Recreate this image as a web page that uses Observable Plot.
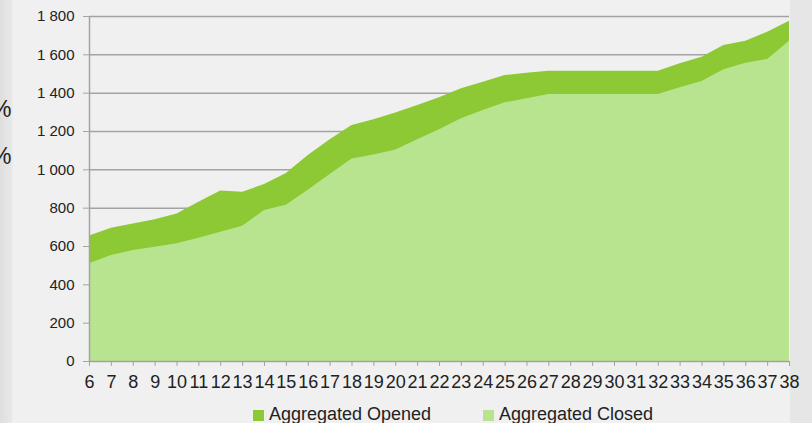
<!DOCTYPE html>
<html>
<head>
<meta charset="utf-8">
<script src="https://cdn.jsdelivr.net/npm/d3@7"></script>
<script src="https://cdn.jsdelivr.net/npm/@observablehq/plot@0.6"></script>
<style>
  html, body { margin: 0; padding: 0; }
  body {
    width: 812px; height: 423px; overflow: hidden;
    background: linear-gradient(to right, #dedede 0px, #e9e9e9 12px, #f0f0f0 13px, #f0f0f0 790px, #e6e6e6 790px, #e6e6e6 812px);
    font-family: "Liberation Sans", Arial, sans-serif;
    position: relative;
  }
  #chart { position: absolute; left: 0; top: 0; }
  .pct { position: absolute; left: -9px; font-size: 23px; line-height: 1; color: #222; }
  .sw { position: absolute; width: 11px; height: 11px; top: 410px; }
  .lt { position: absolute; top: 405px; font-size: 18px; line-height: 18px; color: #222; white-space: nowrap; }
</style>
</head>
<body>
<div class="pct" style="top:98px">%</div>
<div class="pct" style="top:145px">%</div>
<div id="chart"></div>
<span class="sw" style="left:253px;background:#8cc935"></span>
<span class="lt" style="left:269px">Aggregated Opened</span>
<span class="sw" style="left:483px;background:#b8e48f"></span>
<span class="lt" style="left:499px">Aggregated Closed</span>
<script>
const weeks  = [6,7,8,9,10,11,12,13,14,15,16,17,18,19,20,21,22,23,24,25,26,27,28,29,30,31,32,33,34,35,36,37,38];
const opened = [655,695,718,739,770,831,889,883,923,981,1075,1157,1231,1261,1296,1336,1376,1423,1457,1492,1504,1515,1515,1515,1515,1515,1515,1553,1588,1649,1671,1718,1775];
const closed = [510,553,579,596,614,643,675,706,788,815,894,976,1057,1078,1104,1157,1209,1266,1310,1350,1371,1393,1393,1393,1393,1393,1393,1428,1461,1522,1556,1576,1671];
const yTicks = [0,200,400,600,800,1000,1200,1400,1600,1800];
const yTickLabels = ["0","200","400","600","800","1 000","1 200","1 400","1 600","1 800"];

const rows = weeks.map((w, i) => ({week: w, opened: opened[i], closed: closed[i]}));

const chart = Plot.plot({
  width: 812,
  height: 400,
  marginTop: 16,
  marginBottom: 39,
  marginLeft: 89,
  marginRight: 23,
  style: {background: "transparent", fontFamily: "Liberation Sans, Arial, sans-serif"},
  x: {domain: [6, 38]},
  y: {domain: [0, 1800]},
  marks: [
    Plot.ruleY(yTicks.slice(1), {stroke: "#a3a3a3", strokeWidth: 1.5}),
    Plot.areaY(rows, {x: "week", y: "opened", fill: "#8cc935"}),
    Plot.areaY(rows, {x: "week", y: "closed", fill: "#b8e48f"}),
    Plot.ruleX([6], {stroke: "#a3a3a3", strokeWidth: 1.5}),
    Plot.ruleY([0], {stroke: "#a3a3a3", strokeWidth: 1.5}),
    Plot.axisY({ticks: yTicks, tickFormat: (d, i) => yTickLabels[yTicks.indexOf(d)], tickSize: 6, tickPadding: 9, stroke: "#a3a3a3", color: "#222", fontSize: 15, label: null}),
    Plot.axisX({ticks: weeks, tickFormat: d => String(d), tickSize: 5, tickPadding: 9, stroke: "#a3a3a3", color: "#222", fontSize: 18, label: null})
  ]
});
document.getElementById("chart").appendChild(chart);
</script>
</body>
</html>
